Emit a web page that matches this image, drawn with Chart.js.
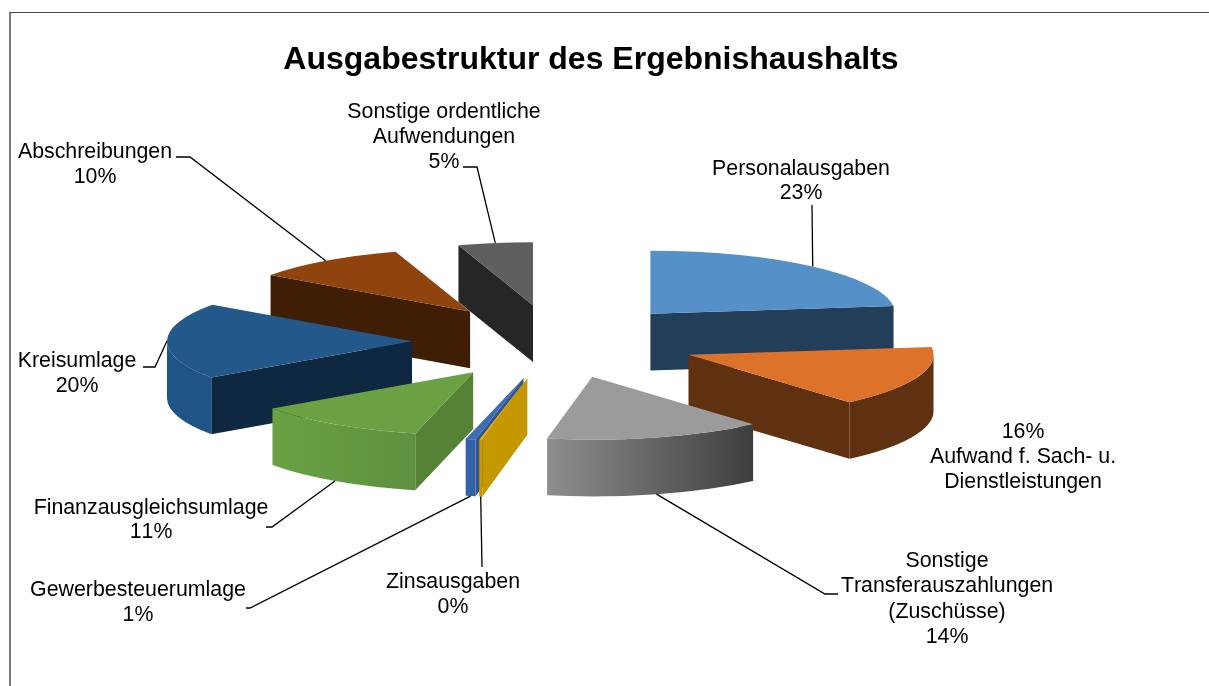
<!DOCTYPE html>
<html lang="de"><head><meta charset="utf-8">
<title>Ausgabestruktur des Ergebnishaushalts</title>
<style>
html,body{margin:0;padding:0;background:#fff;overflow:hidden;width:1209px;height:686px}
#frame{position:absolute;left:9px;top:12px;width:1200px;height:674px;border-left:2px solid #7a7a7a;border-top:1px solid #444;box-sizing:border-box}
#c{position:absolute;left:0;top:0}
</style>
<script src="https://cdn.jsdelivr.net/npm/chart.js@4"></script>
</head><body>
<div id="frame"></div>
<canvas id="c" width="1182" height="686"></canvas>
<script>
const titleText = 'Ausgabestruktur des Ergebnishaushalts';
const categories = ['Personalausgaben','Aufwand f. Sach- u. Dienstleistungen','Sonstige Transferauszahlungen (Zuschüsse)','Zinsausgaben','Gewerbesteuerumlage','Finanzausgleichsumlage','Kreisumlage','Abschreibungen','Sonstige ordentliche Aufwendungen'];
const values = [23.05, 15.55, 14.35, 0.2, 0.65, 11.48, 19.57, 10.23, 4.92];
// styles
const topColors  = ['#5590C8','#DD732B','#9B9B9B','#EFAF00','#3F6DB5','#6BA143','#22598A','#8F430D','#5F5F5F'];
const cutColors  = ['#233E58','#5F3110','#444444','#C59800','#2F5597','#558235','#0E2841','#401E06','#262626'];
const wallStart  = ['#233E58','#5F3110','#8E8E8E','#C59800','#3561A6','#69A243','#1F5586','#401E06','#262626'];
const wallEnd    = ['#233E58','#5F3110','#3E3E3E','#C59800','#3561A6','#5E9040','#1F5586','#401E06','#262626'];
// layout
const SQUASH = 0.257, DEPTH = 56.7, SHIFT_X = -36;
const explode = [144,143,142,145,145,145,143,144,143];
const labelLines = [
 {x:801,y:[168,192],t:['Personalausgaben','23%'],elbow:[[812,205]]},
 {x:1023,y:[431,456,481],t:['16%','Aufwand f. Sach- u.','Dienstleistungen'],elbow:[]},
 {x:947,y:[560,585,611,636],t:['Sonstige','Transferauszahlungen','(Zuschüsse)','14%'],elbow:[[825,594],[838,594]]},
 {x:453,y:[581,606],t:['Zinsausgaben','0%'],elbow:[[482,567]]},
 {x:138,y:[589,614],t:['Gewerbesteuerumlage','1%'],elbow:[[250,608],[246,608]]},
 {x:151,y:[507,531],t:['Finanzausgleichsumlage','11%'],elbow:[[272,527],[266,527]]},
 {x:77,y:[360,385],t:['Kreisumlage','20%'],elbow:[[155,367],[143,367]]},
 {x:95,y:[151,176],t:['Abschreibungen','10%'],elbow:[[190,157],[176,157]]},
 {x:444,y:[111,136,161],t:['Sonstige ordentliche','Aufwendungen','5%'],elbow:[[477,167],[463,167]]}
];
const pie3d = {
 id:'pie3d',
 beforeDatasetDraw(chart,args){
  const ctx = chart.ctx, arcs = chart.getDatasetMeta(args.index).data;
  const items = arcs.map((arc,i)=>{
    const p = arc.getProps(['x','y','startAngle','endAngle','outerRadius'],true);
    const mid = (p.startAngle+p.endAngle)/2;
    const ox = p.x+SHIFT_X+Math.cos(mid)*explode[i], oy = p.y+Math.sin(mid)*explode[i]*SQUASH;
    return {arc,i,p,mid,ox,oy};
  });
  const pt = (it,th,r=it.p.outerRadius,d=0)=>[it.ox+Math.cos(th)*r, it.oy+Math.sin(th)*r*SQUASH+d];
  const order = items.slice().sort((a,b)=>a.oy-b.oy);
  for(const it of order){
    const {p,i,arc,ox,oy} = it, r = p.outerRadius;
    ctx.save();
    // cut faces
    for(const [th,sign] of [[p.startAngle,1],[p.endAngle,-1]]){
      const e = pt(it,th);
      // the face is visible when its outward normal points to the viewer
      const ny = Math.cos(th)*-sign;
      if(ny<=0) continue;
      ctx.fillStyle = cutColors[i];
      ctx.beginPath();ctx.moveTo(ox,oy);ctx.lineTo(e[0],e[1]);ctx.lineTo(e[0],e[1]+DEPTH);ctx.lineTo(ox,oy+DEPTH);ctx.closePath();ctx.fill();
    }
    // outer wall (front half only)
    const lo = Math.max(p.startAngle,0), hi = Math.min(p.endAngle,Math.PI);
    if(lo<hi){
      const xa = pt(it,hi)[0], xb = pt(it,lo)[0];
      const g = ctx.createLinearGradient(xa,0,xb,0);
      g.addColorStop(0,wallStart[i]);g.addColorStop(1,wallEnd[i]);
      ctx.fillStyle = g;
      ctx.beginPath();
      ctx.ellipse(ox,oy,r,r*SQUASH,0,lo,hi,false);
      ctx.ellipse(ox,oy+DEPTH,r,r*SQUASH,0,hi,lo,true);
      ctx.closePath();ctx.fill();
    }
    // top face, drawn by the arc element itself
    ctx.translate(ox,oy);ctx.scale(1,SQUASH);ctx.translate(-p.x,-p.y);
    arc.draw(ctx);
    ctx.restore();
  }
  // leader lines
  ctx.save();
  ctx.strokeStyle='#000';ctx.lineWidth=1.3;
  items.forEach(it=>{
    const el = labelLines[it.i].elbow;
    if(!el.length) return;
    const a = pt(it,it.mid,it.p.outerRadius,Math.sin(it.mid)>0.1?DEPTH:0);
    ctx.beginPath();ctx.moveTo(a[0],a[1]);
    el.forEach(q=>ctx.lineTo(q[0],q[1]));
    ctx.stroke();
  });
  // labels
  ctx.fillStyle='#000';ctx.font='21.33px "Liberation Sans", Arial, sans-serif';ctx.textAlign='center';ctx.textBaseline='alphabetic';
  ctx.fontKerning='none';
  labelLines.forEach(l=>l.t.forEach((s,k)=>ctx.fillText(s,l.x,l.y[k]+7)));
  ctx.restore();
  return false;
 }
};
new Chart(document.getElementById('c'),{
 type:'pie',
 data:{labels:categories,datasets:[{data:values,backgroundColor:topColors,borderWidth:0,radius:245,hoverOffset:0}]},
 options:{
  responsive:false,animation:false,
  layout:{padding:{bottom:82.4}},
  events:[],
  plugins:{
   legend:{display:false},tooltip:{enabled:false},
   title:{display:true,text:titleText,color:'#000',padding:{top:41,bottom:0},font:{family:'"Liberation Sans", Arial, sans-serif',size:32,weight:'bold',lineHeight:1.2}}
  }
 },
 plugins:[pie3d]
});
</script>
</body></html>
